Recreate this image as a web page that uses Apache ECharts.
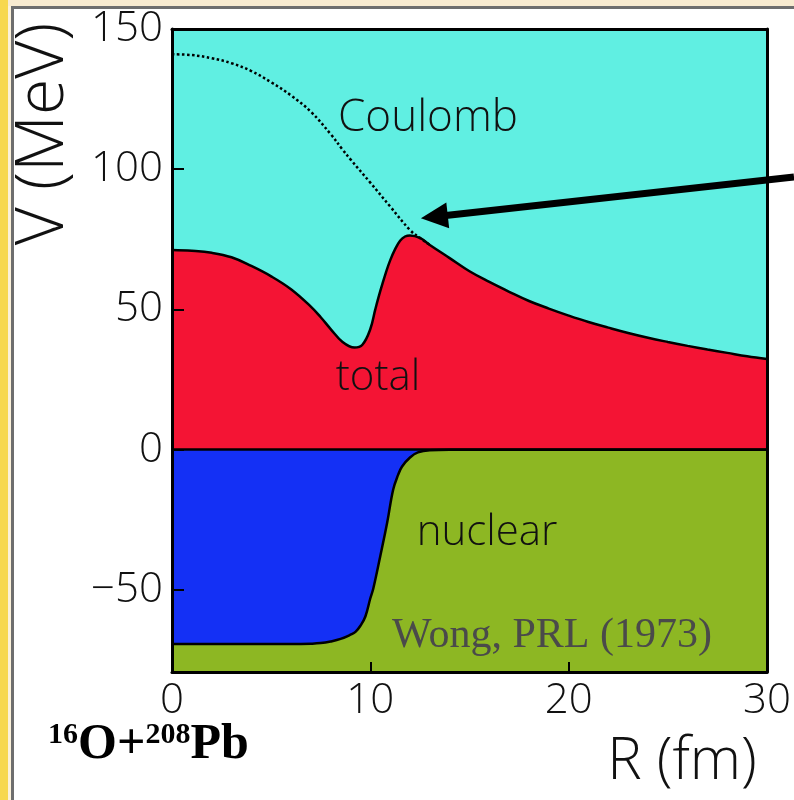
<!DOCTYPE html>
<html>
<head>
<meta charset="utf-8">
<script src="https://cdn.jsdelivr.net/npm/echarts@6/dist/echarts.min.js"></script>
<style>
  html, body { margin: 0; padding: 0; background: #ffffff; }
  #chart { width: 794px; height: 800px; }
</style>
</head>
<body>
<div id="chart"></div>
<script>
// Ion–ion potential for 16O + 208Pb: Coulomb, nuclear and total, V(R) in MeV vs R in fm
const R_TOTAL = [0, 1, 2, 3, 4, 5, 6, 7, 7.5, 8, 8.6, 9.2, 9.6, 10.0, 10.25, 10.5, 10.8, 11.0, 11.25, 11.5, 11.75, 12.0, 12.5, 13, 14, 15, 16, 17, 18, 19, 20, 21, 22, 23, 24, 25, 26, 27, 28, 29, 30];
const V_TOTAL = [71.2, 70.9, 70.2, 68.6, 65.5, 61.8, 57.2, 51.0, 47.2, 43.0, 38.4, 36.4, 37.4, 43.0, 50.0, 56.5, 63.5, 67.5, 71.5, 74.5, 76.0, 76.4, 75.5, 73.0, 68.3, 63.6, 59.8, 56.3, 53.0, 50.3, 47.8, 45.5, 43.5, 41.6, 39.9, 38.4, 37.0, 35.7, 34.5, 33.3, 32.3];

const R_COULOMB = [0, 1, 2, 3, 4, 5, 6, 7, 8, 8.6, 9, 10, 11, 12, 12.5, 13];
const V_COULOMB = [141, 140.7, 139.6, 137.8, 135, 131, 126.3, 120.5, 112.5, 107, 103.5, 95.2, 86.7, 78.3, 75.5, 73.0];

const R_NUCLEAR = [0, 2, 4, 6, 7, 7.5, 8, 8.5, 9.0, 9.25, 9.5, 9.75, 10.0, 10.15, 10.5, 10.85, 11.15, 11.4, 11.6, 12.0, 12.4, 13, 14, 20, 30];
const V_NUCLEAR = [-69.3, -69.3, -69.3, -69.3, -69.2, -69.0, -68.4, -67.5, -66.0, -65.0, -62.8, -59.5, -53.0, -49.5, -38.0, -26.0, -14.3, -9.0, -6.0, -2.8, -1.0, -0.2, 0, 0, 0];

const X_MIN = 0, X_MAX = 30, X_STEP = 10;
const Y_MIN = -79.3, Y_MAX = 150;
const Y_TICKS = [-50, 0, 50, 100, 150];

const zip = (xs, ys) => xs.map((x, i) => [x, ys[i]]);

const TICK_FONT = { fontFamily: 'Open Sans', fontWeight: 300, fontSize: 42, color: '#111' };
const LABEL_FONT = 'Open Sans';

const chart = echarts.init(document.getElementById('chart'), null, { renderer: 'canvas' });

const frameAxis = {
  z: 6,
  axisLine: { show: true, onZero: false, lineStyle: { color: '#000', width: 3 } },
  splitLine: { show: false }
};

chart.setOption({
  backgroundColor: '#ffffff',
  animation: false,
  grid: {
    left: 172, right: 27, top: 29, bottom: 128,
    show: true, backgroundColor: '#60EFE2', borderWidth: 0
  },
  xAxis: [
    Object.assign({}, frameAxis, {
      type: 'value', min: X_MIN, max: X_MAX, interval: X_STEP, position: 'bottom',
      axisTick: { show: true, inside: true, length: 10, lineStyle: { color: '#000', width: 2 } },
      axisLabel: Object.assign({ margin: 8 }, TICK_FONT)
    }),
    Object.assign({}, frameAxis, {
      type: 'value', min: X_MIN, max: X_MAX, interval: X_STEP, position: 'top',
      axisTick: { show: false }, axisLabel: { show: false }
    })
  ],
  yAxis: [
    Object.assign({}, frameAxis, {
      type: 'value', min: Y_MIN, max: Y_MAX, position: 'left',
      axisTick: { show: true, inside: true, length: 12, customValues: Y_TICKS, lineStyle: { color: '#000', width: 2 } },
      axisLabel: Object.assign({
        margin: 9, customValues: Y_TICKS, showMinLabel: true, showMaxLabel: true,
        formatter: v => (v < 0 ? '\u2212' + (-v) : String(v))
      }, TICK_FONT)
    }),
    Object.assign({}, frameAxis, {
      type: 'value', min: Y_MIN, max: Y_MAX, position: 'right',
      axisTick: { show: false }, axisLabel: { show: false }
    })
  ],
  series: [
    {
      // lower half of the plane (negative potentials)
      name: 'below zero', type: 'line', data: [], z: 1, silent: true,
      markArea: {
        silent: true,
        itemStyle: { color: '#8DB723', borderWidth: 0 },
        data: [[{ xAxis: X_MIN, yAxis: Y_MIN }, { xAxis: X_MAX, yAxis: 0 }]]
      }
    },
    {
      name: 'total', type: 'line', data: zip(R_TOTAL, V_TOTAL), z: 2,
      showSymbol: false, smooth: 0.4,
      lineStyle: { color: '#000', width: 2.5 },
      areaStyle: { color: '#F41434', opacity: 1 }
    },
    {
      name: 'nuclear', type: 'line', data: zip(R_NUCLEAR, V_NUCLEAR), z: 2,
      showSymbol: false, smooth: 0.4,
      lineStyle: { color: '#000', width: 2.5 },
      areaStyle: { color: '#1430F5', opacity: 1 }
    },
    {
      name: 'Coulomb', type: 'line', data: zip(R_COULOMB, V_COULOMB), z: 3,
      showSymbol: false, smooth: 0.4,
      lineStyle: { color: '#000', width: 2.5, type: [2.5, 2.5] }
    },
    {
      name: 'zero', type: 'line', data: [], z: 4, silent: true,
      markLine: {
        silent: true, symbol: ['none', 'none'],
        label: { show: false },
        lineStyle: { color: '#000', width: 2.5, type: 'solid' },
        data: [{ yAxis: 0 }]
      }
    }
  ]
});

// Annotations: arrow toward the barrier top, curve labels, titles and page frame
const tip = chart.convertToPixel({ xAxisIndex: 0, yAxisIndex: 0 }, [12.55, 82.5]);
const tail = [794, 177];
const dx = tail[0] - tip[0], dy = tail[1] - tip[1];
const len = Math.sqrt(dx * dx + dy * dy);
const ux = dx / len, uy = dy / len;
const headLen = 27, headHalf = 13;
const base = [tip[0] + ux * headLen, tip[1] + uy * headLen];
const px = -uy, py = ux;

chart.setOption({
  graphic: [
    // page frame
    { type: 'rect', z: 0, shape: { x: 0, y: 0, width: 794, height: 6 }, style: { fill: '#F8EBD0' } },
    { type: 'rect', z: 0, shape: { x: 0, y: 0, width: 8, height: 800 }, style: { fill: '#F7D84E' } },
    { type: 'rect', z: 0, shape: { x: 8, y: 6, width: 3, height: 794 }, style: { fill: '#FBF1DA' } },
    { type: 'rect', z: 1, shape: { x: 11, y: 6, width: 783, height: 3 }, style: { fill: '#6E6E6E' } },
    { type: 'rect', z: 1, shape: { x: 11, y: 6, width: 3, height: 794 }, style: { fill: '#6E6E6E' } },

    // arrow
    { type: 'line', z: 50, shape: { x1: tail[0], y1: tail[1], x2: base[0] - ux * 2, y2: base[1] - uy * 2 },
      style: { stroke: '#000', lineWidth: 7 } },
    { type: 'polygon', z: 50, shape: { points: [tip, [base[0] + px * headHalf, base[1] + py * headHalf], [base[0] - px * headHalf, base[1] - py * headHalf]] },
      style: { fill: '#000' } },

    // curve labels
    { type: 'text', z: 50, x: 428, y: 118, style: { text: 'Coulomb', fontFamily: LABEL_FONT, fontWeight: 300, fontSize: 44, fill: '#111', align: 'center', verticalAlign: 'middle' } },
    { type: 'text', z: 50, x: 378, y: 378, style: { text: 'total', fontFamily: LABEL_FONT, fontWeight: 300, fontSize: 42, fill: '#111', align: 'center', verticalAlign: 'middle' } },
    { type: 'text', z: 50, x: 487, y: 533, style: { text: 'nuclear', fontFamily: LABEL_FONT, fontWeight: 300, fontSize: 42, fill: '#111', align: 'center', verticalAlign: 'middle' } },
    { type: 'text', z: 50, x: 552, y: 636, style: { text: 'Wong, PRL (1973)', fontFamily: 'Liberation Serif', fontSize: 42, fill: '#4A4A4A', align: 'center', verticalAlign: 'middle' } },

    // axis titles
    { type: 'text', z: 50, x: 682, y: 762, style: { text: 'R (fm)', fontFamily: LABEL_FONT, fontWeight: 300, fontSize: 58, fill: '#111', align: 'center', verticalAlign: 'middle' } },
    { type: 'text', z: 50, x: 44, y: 134, rotation: Math.PI / 2,
      style: { text: 'V (MeV)', fontFamily: LABEL_FONT, fontWeight: 300, fontSize: 66, fill: '#111', align: 'center', verticalAlign: 'middle' } },

    // reaction
    { type: 'text', z: 50, x: 48, y: 770,
      style: {
        text: '{s|16}{b|O+}{s|208}{b|Pb}',
        verticalAlign: 'bottom',
        rich: {
          b: { fontFamily: 'Liberation Serif', fontWeight: 'bold', fontSize: 50, lineHeight: 50, fill: '#000' },
          s: { fontFamily: 'Liberation Serif', fontWeight: 'bold', fontSize: 30, lineHeight: 30, verticalAlign: 'top', fill: '#000' }
        }
      } }
  ]
});
</script>
</body>
</html>
